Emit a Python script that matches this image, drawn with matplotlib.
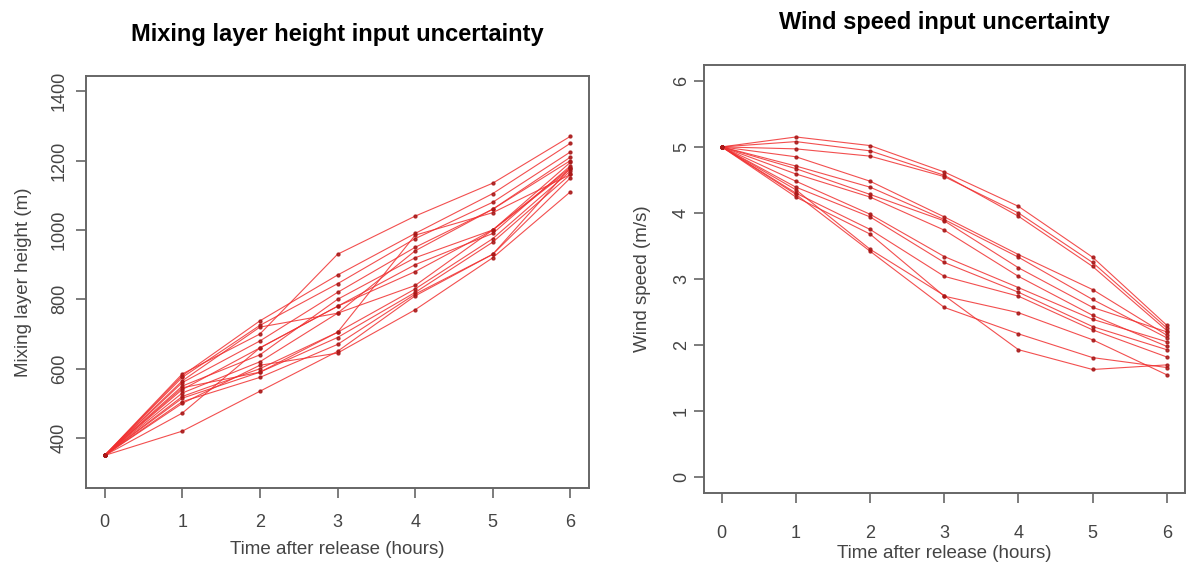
import matplotlib
matplotlib.use("Agg")
import matplotlib.pyplot as plt
import numpy as np

plt.rcParams['font.family'] = ['Liberation Sans', 'DejaVu Sans']

hours = [0, 1, 2, 3, 4, 5, 6]

# Mixing layer height runs (m)
mlh_runs = [
    [350, 585, 700, 930, 1040, 1135, 1270],
    [350, 580, 738, 870, 990, 1105, 1250],
    [350, 575, 725, 845, 975, 1080, 1225],
    [350, 560, 680, 820, 950, 1060, 1210],
    [350, 550, 640, 800, 920, 1000, 1195],
    [350, 540, 660, 780, 900, 990, 1185],
    [350, 530, 620, 760, 840, 1000, 1180],
    [350, 520, 600, 705, 830, 975, 1170],
    [350, 515, 590, 690, 820, 965, 1160],
    [350, 505, 575, 670, 815, 930, 1150],
    [350, 500, 610, 645, 770, 920, 1110],
    [350, 472, 660, 780, 880, 1000, 1175],
    [350, 420, 535, 650, 810, 930, 1180],
    [350, 565, 720, 760, 940, 1060, 1200],
    [350, 545, 590, 705, 985, 1050, 1160],
]

# Wind speed runs (m/s)
ws_runs = [
    [5, 5.15, 5.02, 4.62, 4.10, 3.33, 2.30],
    [5, 5.08, 4.94, 4.57, 3.95, 3.19, 2.22],
    [5, 4.97, 4.86, 4.55, 4.00, 3.25, 2.26],
    [5, 4.85, 4.48, 3.94, 3.37, 2.84, 2.15],
    [5, 4.71, 4.39, 3.90, 3.33, 2.69, 2.11],
    [5, 4.67, 4.28, 3.88, 3.17, 2.57, 2.20],
    [5, 4.59, 4.24, 3.74, 3.04, 2.45, 1.98],
    [5, 4.48, 3.98, 3.34, 2.87, 2.39, 2.05],
    [5, 4.39, 3.94, 3.25, 2.80, 2.28, 1.93],
    [5, 4.30, 3.75, 3.04, 2.74, 2.23, 1.82],
    [5, 4.24, 3.68, 2.74, 2.49, 2.08, 1.55],
    [5, 4.28, 3.42, 2.57, 2.17, 1.81, 1.66],
    [5, 4.35, 3.45, 2.75, 1.93, 1.63, 1.70],
]

mlh_yticks = [400, 600, 800, 1000, 1200, 1400]
ws_yticks = [0, 1, 2, 3, 4, 5, 6]

fig = plt.figure(figsize=(11.88, 5.68), dpi=100)
ax1 = fig.add_axes([0.0724, 0.1408, 0.4234, 0.7254])
ax2 = fig.add_axes([0.5926, 0.132, 0.4045, 0.7536])

line_col = '#f03030'
pt_col = '#a81818'
txt_col = '#444444'
edge_col = '#666666'

def style(ax, yticks, xlim, ylim, xpad, ypad):
    for s in ax.spines.values():
        s.set_color(edge_col)
        s.set_linewidth(1.4)
    ax.set_xlim(*xlim)
    ax.set_ylim(*ylim)
    ax.set_xticks(hours)
    ax.set_yticks(yticks)
    ax.tick_params(direction='out', length=7, width=1.2, color=edge_col,
                   labelcolor=txt_col, labelsize=13)
    ax.tick_params(axis='x', pad=xpad)
    ax.tick_params(axis='y', pad=ypad)
    for lab in ax.get_yticklabels():
        lab.set_rotation(90)
        lab.set_va('center')

for run in mlh_runs:
    ax1.plot(hours, run, color=line_col, lw=0.8, alpha=0.85,
             marker='o', ms=2.1, mfc=pt_col, mec=pt_col)
style(ax1, mlh_yticks, (-0.24, 6.24), (256, 1444), 12, 6)
ax1.set_xlabel('Time after release (hours)', fontsize=13.5, color=txt_col, labelpad=7)
ax1.set_ylabel('Mixing layer height (m)', fontsize=13.5, color=txt_col, labelpad=14)
ax1.set_title('Mixing layer height input uncertainty', fontsize=17,
              fontweight='bold', pad=25)

for run in ws_runs:
    ax2.plot(hours, run, color=line_col, lw=0.8, alpha=0.85,
             marker='o', ms=2.1, mfc=pt_col, mec=pt_col)
style(ax2, ws_yticks, (-0.24, 6.24), (-0.24, 6.24), 16, 3)
ax2.set_xlabel('Time after release (hours)', fontsize=13.5, color=txt_col, labelpad=2)
ax2.set_ylabel('Wind speed (m/s)', fontsize=13.5, color=txt_col, labelpad=16)
ax2.set_title('Wind speed input uncertainty', fontsize=17,
              fontweight='bold', pad=26)

fig.savefig('out.png', dpi=100)
